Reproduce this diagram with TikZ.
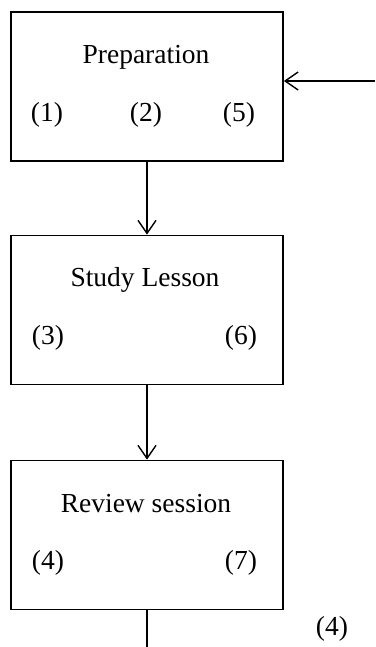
\documentclass[tikz,border=0pt]{standalone}
\usepackage{fontspec}
\setmainfont{Liberation Serif}
\usetikzlibrary{arrows.meta}
\begin{document}
\begin{tikzpicture}[x=1pt,y=-1pt,
    stagebox/.style={draw,line width=1.8pt,minimum width=272pt,minimum height=149pt,inner sep=0pt},
    txt/.style={font=\fontsize{27.5}{32}\selectfont,inner sep=0pt},
    flow/.style={line width=1.4pt,-{Straight Barb[length=13pt,width=18pt,line width=1.4pt]}}]
    \useasboundingbox (0,0) rectangle (375,647);
    % three stages
    \node[stagebox] (prep) at (147,86.5) {};
    \node[stagebox] (study) at (147,310) {};
    \node[stagebox] (review) at (147,535) {};
    % texts in the boxes
    \node[txt] (prepT) at (146,57) {Preparation};
    \node[txt] (p1) at (47,115) {(1)};
    \node[txt] (p2) at (146,115) {(2)};
    \node[txt] (p5) at (239,115) {(5)};
    \node[txt] (studyT) at (145,280) {Study Lesson};
    \node[txt] (s3) at (48,338) {(3)};
    \node[txt] (s6) at (241,338) {(6)};
    \node[txt] (reviewT) at (146,504) {Review session};
    \node[txt] (r4) at (48,563) {(4)};
    \node[txt] (r7) at (241,563) {(7)};
    \node[txt] (out4) at (332,629) {(4)};
    % connectors
    \coordinate (entry) at (375,81);
    \coordinate (exit) at (147,647);
    \draw[flow] (entry) -- (prep.east |- entry);
    \draw[flow] (prep) -- (study);
    \draw[flow] (study) -- (review);
    \draw[line width=1.4pt] (review) -- (exit);
\end{tikzpicture}
\end{document}
